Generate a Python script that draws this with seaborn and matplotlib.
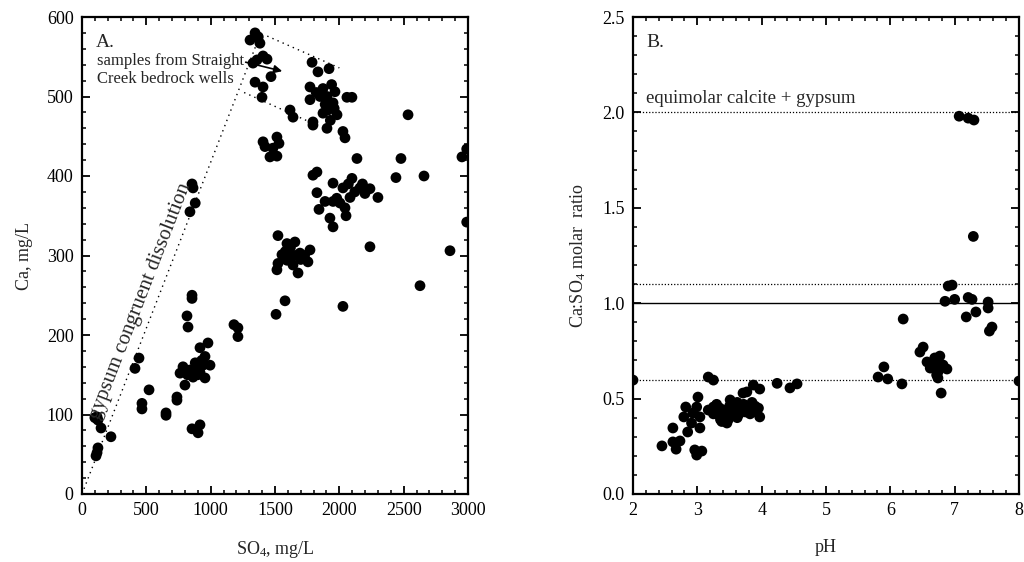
import matplotlib
matplotlib.use("Agg")
import matplotlib.pyplot as plt
from matplotlib.ticker import MultipleLocator
import seaborn as sns
import pandas as pd

# ---- Panel A data: SO4 (mg/L) vs Ca (mg/L) ----
so4 = [1345, 1306, 1383, 1407, 1438, 1329, 1360, 1345, 1407, 1469, 1399, 1370,
       1788, 1834, 1920, 1772, 1873, 1966, 1772, 1904, 1951, 2059, 2098, 1912, 1982,
       1873, 1795, 1904, 2028, 2044, 1617, 1640, 1795, 1940, 1890, 1850, 1930, 1960, 1820,
       1407, 1422, 1515, 1531, 1461, 1515, 1484,
       2137, 1826, 1795, 1951, 2098, 2028, 2160, 2238, 2300, 2199, 2083, 1826, 1889,
       1951, 2005, 2044, 1842, 1927, 1951, 2052, 2120, 2070, 1980, 2180,
       2479, 2440, 2658, 2534, 2953, 2990, 2990, 2238, 2860, 2627, 2028,
       1523, 1593, 1655, 1554, 1617, 1694, 1772, 1756, 1523, 1515, 1640, 1679, 1593,
       1660, 1700, 1620, 1580, 1730, 1578, 1508,
       1181, 1212, 1212,
       917, 979, 956, 785, 839, 894, 940, 995, 762, 800, 863, 956, 917, 880, 860, 930,
       900, 820, 738, 738, 653, 653, 855, 902, 917, 855, 855, 816, 824, 855, 863, 880, 839,
       412, 443, 521, 466, 466, 117, 124, 100, 148, 225, 124, 117, 109]
ca = [580, 571, 567, 551, 547, 542, 546, 518, 512, 525, 499, 575,
      543, 531, 535, 512, 510, 506, 496, 500, 492, 499, 499, 483, 477,
      479, 468, 460, 456, 448, 483, 474, 464, 515, 490, 500, 470, 485, 505,
      443, 437, 449, 441, 424, 425, 435,
      422, 405, 401, 391, 397, 385, 385, 384, 373, 378, 373, 379, 368,
      368, 366, 360, 358, 347, 336, 350, 380, 390, 372, 390,
      422, 398, 400, 477, 424, 434, 342, 311, 306, 262, 236,
      325, 315, 317, 301, 298, 303, 307, 292, 290, 282, 288, 278, 294,
      300, 295, 310, 305, 300, 243, 226,
      213, 209, 198,
      184, 190, 173, 160, 156, 160, 162, 162, 152, 137, 147, 146, 153, 165, 155, 168,
      150, 150, 122, 118, 102, 99, 82, 77, 87, 250, 246, 224, 210, 390, 385, 366, 355,
      158, 171, 131, 114, 107, 97, 93, 96, 83, 72, 58, 52, 48]

# ---- Panel B data: pH vs Ca:SO4 molar ratio ----
ph = [2.00, 2.45, 2.62, 2.67, 2.62, 2.73, 2.82, 2.79, 2.85, 2.91, 2.99, 3.01, 3.04,
      3.04, 2.96, 2.99, 3.07, 2.93, 3.17, 3.25, 3.17, 3.25, 3.51, 3.71, 3.87, 3.77,
      3.97, 4.24, 4.44, 4.55, 3.46, 3.36, 3.97,
      3.30, 3.35, 3.40, 3.42, 3.45, 3.50, 3.52, 3.55, 3.58, 3.60, 3.62, 3.65, 3.68,
      3.70, 3.72, 3.75, 3.80, 3.82, 3.85, 3.88, 3.90, 3.92, 3.95, 3.30, 3.38, 3.48,
      3.55, 3.25, 3.62,
      6.90, 6.96, 6.85, 7.00, 7.21, 7.27, 7.52, 7.52, 7.33, 7.18, 7.58, 7.54, 6.20,
      6.46, 6.51, 6.57, 6.69, 6.77, 6.72, 6.66, 6.62, 6.88, 6.82, 6.74, 6.74, 6.72,
      6.79, 5.90, 5.81, 5.96, 6.18, 8.00, 7.07, 7.21, 7.30, 7.29]
ratio = [0.597, 0.252, 0.346, 0.235, 0.273, 0.278, 0.456, 0.404, 0.325, 0.372, 0.456,
         0.508, 0.404, 0.346, 0.231, 0.204, 0.225, 0.424, 0.613, 0.597, 0.440, 0.456,
         0.493, 0.529, 0.571, 0.535, 0.550, 0.580, 0.556, 0.577, 0.372, 0.390, 0.404,
         0.42, 0.45, 0.43, 0.40, 0.44, 0.46, 0.41, 0.47, 0.43, 0.45, 0.48, 0.42, 0.46,
         0.44, 0.47, 0.43, 0.45, 0.42, 0.48, 0.44, 0.46, 0.43, 0.45, 0.47, 0.38, 0.39,
         0.41, 0.42, 0.40,
         1.090, 1.095, 1.010, 1.020, 1.030, 1.020, 1.006, 0.975, 0.954, 0.928, 0.875,
         0.854, 0.917, 0.744, 0.770, 0.692, 0.713, 0.723, 0.686, 0.666, 0.660, 0.655,
         0.676, 0.639, 0.608, 0.624, 0.529, 0.666, 0.613, 0.603, 0.577, 0.592, 1.98,
         1.97, 1.96, 1.35]

# reference lines
gyp_ratio = 40.08 / 96.06
gyp_x = [0, 1380]
upper_env_x = [1440, 2000]
upper_env_y = [576, 536]
lower_env_x = [1260, 1770]
lower_env_y = [505, 468]
b_dotted = [2.0, 1.1, 0.6]
b_solid = [1.0]

sns.set_style("ticks")
plt.rcParams['font.family'] = ['Liberation Serif', 'DejaVu Serif']
plt.rcParams['mathtext.default'] = 'regular'

dfA = pd.DataFrame({"SO4": so4, "Ca": ca})
dfB = pd.DataFrame({"pH": ph, "ratio": ratio})

fig = plt.figure(figsize=(10.24, 5.62), dpi=100)
axA = fig.add_axes([82/1024, 68/562, 386/1024, 477/562])
axB = fig.add_axes([633/1024, 68/562, 386/1024, 477/562])

sns.scatterplot(data=dfA, x="SO4", y="Ca", ax=axA, color="black", s=60,
                edgecolor="none", legend=False, zorder=3)
sns.scatterplot(data=dfB, x="pH", y="ratio", ax=axB, color="black", s=60,
                edgecolor="none", legend=False, zorder=3)

dot = (0, (1, 3))
axA.plot(gyp_x, [v * gyp_ratio for v in gyp_x], color="black", lw=1, ls=dot)
axA.plot(upper_env_x, upper_env_y, color="black", lw=1, ls=dot)
axA.plot(lower_env_x, lower_env_y, color="black", lw=1, ls=dot)
axA.annotate("", xy=(1577, 531), xytext=(1251, 544),
             arrowprops=dict(arrowstyle="-|>", color="black", lw=1.2,
                             mutation_scale=12))

axA.set_xlim(0, 3000)
axA.set_ylim(0, 600)
axA.xaxis.set_major_locator(MultipleLocator(500))
axA.xaxis.set_minor_locator(MultipleLocator(100))
axA.yaxis.set_major_locator(MultipleLocator(100))
axA.yaxis.set_minor_locator(MultipleLocator(20))
axA.set_xlabel("SO$_4$, mg/L", fontsize=13, labelpad=14)
axA.set_ylabel("Ca, mg/L", fontsize=13, labelpad=10)
axA.text(0.035, 0.965, "A.", transform=axA.transAxes, fontsize=14, va="top", ha="left")
axA.text(0.038, 0.925, "samples from Straight\nCreek bedrock wells",
         transform=axA.transAxes, fontsize=12, va="top", ha="left", linespacing=1.15)
axA.text(455, 243, "gypsum congruent dissolution", fontsize=15, rotation=68.8,
         ha="center", va="center", rotation_mode="anchor")

for y in b_dotted:
    axB.axhline(y, color="black", lw=0.9, ls=(0, (1, 1.5)))
for y in b_solid:
    axB.axhline(y, color="black", lw=1.0, ls="-")
axB.set_xlim(2, 8)
axB.set_ylim(0, 2.5)
axB.xaxis.set_major_locator(MultipleLocator(1))
axB.xaxis.set_minor_locator(MultipleLocator(0.2))
axB.yaxis.set_major_locator(MultipleLocator(0.5))
axB.yaxis.set_minor_locator(MultipleLocator(0.1))
axB.yaxis.set_major_formatter(matplotlib.ticker.FormatStrFormatter("%.1f"))
axB.set_xlabel("pH", fontsize=13, labelpad=14)
axB.set_ylabel("Ca:SO$_4$ molar  ratio", fontsize=13, labelpad=10)
axB.text(0.035, 0.965, "B.", transform=axB.transAxes, fontsize=14, va="top", ha="left")
axB.text(2.2, 2.03, "equimolar calcite + gypsum", fontsize=13.5, va="bottom", ha="left")

for ax in (axA, axB):
    for sp in ax.spines.values():
        sp.set_linewidth(1.6)
        sp.set_color("black")
    ax.tick_params(which="both", direction="in", top=True, right=True,
                   colors="black", labelsize=13)
    ax.tick_params(which="major", length=6, width=1.3, pad=6)
    ax.tick_params(which="minor", length=3, width=1.1)

fig.savefig("out.png", dpi=100)
